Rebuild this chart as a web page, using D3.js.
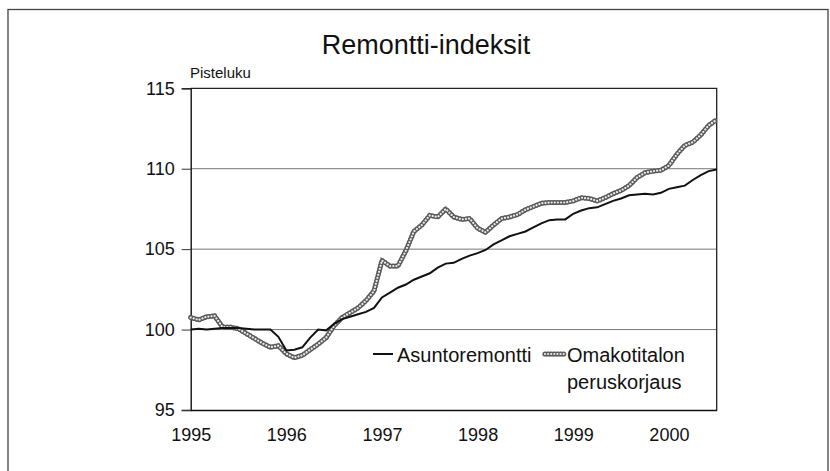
<!DOCTYPE html>
<html>
<head>
<meta charset="utf-8">
<script src="https://cdn.jsdelivr.net/npm/d3@7"></script>
<style>
  body { margin: 0; background: #fff; }
  text { font-family: "Liberation Sans", Arial, sans-serif; fill: #111; }
</style>
</head>
<body>
<div id="chart"></div>
<script>
// Monthly index values, Jan 1995 .. Jul 2000
const yearLabels = ["1995", "1996", "1997", "1998", "1999", "2000"];
const yTicks = [95, 100, 105, 110, 115];
const gridValues = [100, 105, 110];
const seriesNames = ["Asuntoremontti", "Omakotitalon peruskorjaus"];

const asuntoremontti = [
  100.0, 100.05, 100.0, 100.05, 100.1, 100.1, 100.1, 100.05, 100.0, 100.0, 100.0, 99.55,
  98.7, 98.75, 98.9, 99.5, 100.0, 99.95, 100.35, 100.65, 100.8, 100.95, 101.1, 101.35,
  102.0, 102.3, 102.6, 102.8, 103.1, 103.3, 103.5, 103.85, 104.1, 104.15, 104.4, 104.6,
  104.75, 104.95, 105.3, 105.55, 105.8, 105.95, 106.1, 106.35, 106.6, 106.8, 106.85, 106.85,
  107.2, 107.4, 107.55, 107.6, 107.8, 108.0, 108.15, 108.35, 108.4, 108.45, 108.4, 108.5,
  108.75, 108.85, 108.95, 109.3, 109.6, 109.85, 109.95
];

const omakotitalon = [
  100.75, 100.6, 100.8, 100.85, 100.15, 100.15, 100.05, 99.75, 99.45, 99.15, 98.9, 99.0,
  98.5, 98.25, 98.4, 98.75, 99.1, 99.5, 100.25, 100.75, 101.05, 101.35, 101.8, 102.4,
  104.3, 103.95, 103.95, 104.9, 106.1, 106.5, 107.1, 107.0, 107.5, 107.0, 106.85, 106.9,
  106.3, 106.05, 106.5, 106.9, 107.0, 107.15, 107.45, 107.65, 107.85, 107.9, 107.9, 107.9,
  108.0, 108.2, 108.15, 108.0, 108.2, 108.45, 108.65, 108.95, 109.45, 109.75, 109.85, 109.9,
  110.2, 110.9, 111.45, 111.65, 112.1, 112.7, 113.05
];

const width = 830;
const height = 471;
const margin = { top: 88.3, right: 113.3, bottom: 61, left: 190.7 };

const svg = d3.select("#chart")
  .append("svg")
  .attr("width", width)
  .attr("height", height);

// outer frame
svg.append("rect")
  .attr("x", 8)
  .attr("y", 9.5)
  .attr("width", 820)
  .attr("height", 480)
  .attr("fill", "none")
  .attr("stroke", "#444")
  .attr("stroke-width", 1.3);

const x = d3.scaleLinear()
  .domain([0, asuntoremontti.length - 1])
  .range([margin.left, width - margin.right]);

const y = d3.scaleLinear()
  .domain([95, 115])
  .range([height - margin.bottom, margin.top]);

// gridlines
svg.append("g")
  .selectAll("line")
  .data(gridValues)
  .join("line")
  .attr("x1", x.range()[0])
  .attr("x2", x.range()[1])
  .attr("y1", d => y(d))
  .attr("y2", d => y(d))
  .attr("stroke", "#777")
  .attr("stroke-width", 1);

// plot border (top + right)
svg.append("path")
  .attr("d", `M${x.range()[0]},${y(115)}H${x.range()[1]}V${y(95)}`)
  .attr("fill", "none")
  .attr("stroke", "#222")
  .attr("stroke-width", 1.3);

// y axis
const yAxis = svg.append("g")
  .attr("transform", `translate(${margin.left},0)`)
  .call(d3.axisLeft(y).tickValues(yTicks).tickSize(9).tickPadding(7));
yAxis.select(".domain").attr("stroke", "#111").attr("stroke-width", 1.4);
yAxis.selectAll(".tick line").attr("stroke", "#333");
yAxis.selectAll(".tick text")
  .style("font-size", "18px")
  .style("font-family", "'Liberation Sans', Arial, sans-serif")
  .attr("fill", "#111");

// x axis: year labels at each January
const xAxis = svg.append("g")
  .attr("transform", `translate(0,${y(95)})`)
  .call(d3.axisBottom(x)
    .tickValues(yearLabels.map((d, i) => i * 12))
    .tickFormat((d, i) => yearLabels[i])
    .tickSize(0)
    .tickPadding(18));
xAxis.select(".domain").attr("stroke", "#111").attr("stroke-width", 1.6);
xAxis.selectAll(".tick text")
  .style("font-size", "18px")
  .style("font-family", "'Liberation Sans', Arial, sans-serif")
  .attr("fill", "#111");

// title and unit
svg.append("text")
  .attr("x", 426)
  .attr("y", 54)
  .attr("text-anchor", "middle")
  .style("font-size", "27px")
  .text("Remontti-indeksit");

svg.append("text")
  .attr("x", 190)
  .attr("y", 78)
  .style("font-size", "15px")
  .text("Pisteluku");

// textured (chain-like) gray line
function drawTextured(sel) {
  sel.append("path").attr("stroke", "#9a9a9a").attr("stroke-width", 4.5);
  sel.append("path").attr("stroke", "#5a5a5a").attr("stroke-width", 5.2)
    .attr("stroke-dasharray", "0.01 3.1").attr("stroke-linecap", "round");
  sel.append("path").attr("stroke", "#ececec").attr("stroke-width", 2.2)
    .attr("stroke-dasharray", "0.01 3.1").attr("stroke-linecap", "round");
  sel.selectAll("path").attr("fill", "none");
}

const line = d3.line()
  .x((d, i) => x(i))
  .y(d => y(d));

const gray = svg.append("g");
drawTextured(gray);
gray.selectAll("path").attr("d", line(omakotitalon));

svg.append("path")
  .attr("d", line(asuntoremontti))
  .attr("fill", "none")
  .attr("stroke", "#111")
  .attr("stroke-width", 2);

// legend
const legend = svg.append("g");
legend.append("line")
  .attr("x1", 373).attr("x2", 393)
  .attr("y1", 354).attr("y2", 354)
  .attr("stroke", "#111").attr("stroke-width", 2);
legend.append("text")
  .attr("x", 397).attr("y", 362)
  .style("font-size", "20px")
  .text(seriesNames[0]);

const lg = legend.append("g");
drawTextured(lg);
lg.selectAll("path").attr("d", "M545,354H564");
legend.append("text")
  .attr("x", 567).attr("y", 362)
  .style("font-size", "20px")
  .text("Omakotitalon");
legend.append("text")
  .attr("x", 567).attr("y", 389)
  .style("font-size", "20px")
  .text("peruskorjaus");
</script>
</body>
</html>
